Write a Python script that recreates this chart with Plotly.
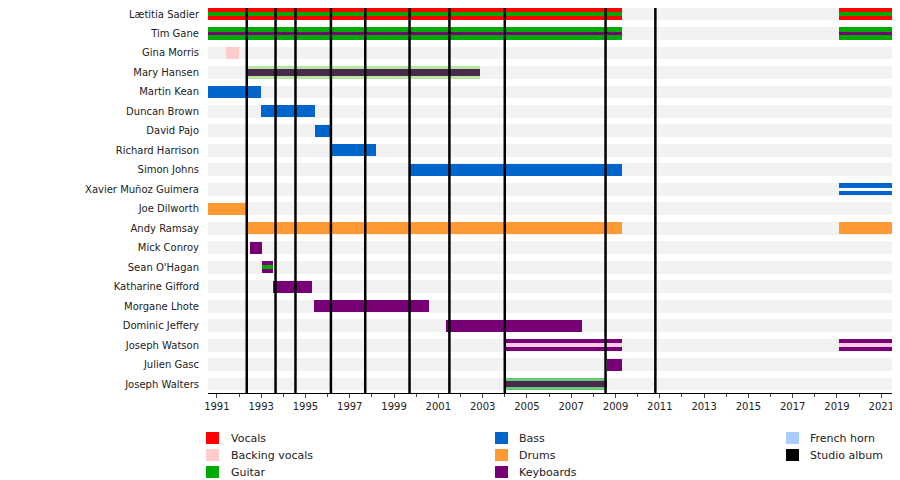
import plotly.graph_objects as go

members = ["Lætitia Sadier", "Tim Gane", "Gina Morris", "Mary Hansen", "Martin Kean",
           "Duncan Brown", "David Pajo", "Richard Harrison", "Simon Johns",
           "Xavier Muñoz Guimera", "Joe Dilworth", "Andy Ramsay", "Mick Conroy",
           "Sean O'Hagan", "Katharine Gifford", "Morgane Lhote", "Dominic Jeffery",
           "Joseph Watson", "Julien Gasc", "Joseph Walters"]

# (member, start, end, outer colour, inner colour or None)
spells = [
    ("Lætitia Sadier", 1990.6, 2009.3, "red", "green"),
    ("Lætitia Sadier", 2019.1, 2021.8, "red", "green"),
    ("Tim Gane", 1990.6, 2009.3, "green", "keys"),
    ("Tim Gane", 2019.1, 2021.8, "green", "keys"),
    ("Gina Morris", 1991.4, 1992.0, "backing", None),
    ("Mary Hansen", 1992.4, 2002.9, "lightgreen", "dark"),
    ("Martin Kean", 1990.6, 1993.0, "bass", None),
    ("Duncan Brown", 1993.0, 1995.45, "bass", None),
    ("David Pajo", 1995.45, 1996.1, "bass", None),
    ("Richard Harrison", 1996.1, 1998.2, "bass", None),
    ("Simon Johns", 1999.7, 2009.3, "bass", None),
    ("Xavier Muñoz Guimera", 2019.1, 2021.8, "bass", "white"),
    ("Joe Dilworth", 1990.6, 1992.35, "drums", None),
    ("Andy Ramsay", 1992.35, 2009.3, "drums", None),
    ("Andy Ramsay", 2019.1, 2021.8, "drums", None),
    ("Mick Conroy", 1992.5, 1993.05, "keys", None),
    ("Sean O'Hagan", 1993.05, 1993.55, "keys", "green"),
    ("Katharine Gifford", 1993.55, 1995.3, "keys", None),
    ("Morgane Lhote", 1995.4, 2000.6, "keys", None),
    ("Dominic Jeffery", 2001.35, 2007.5, "keys", None),
    ("Joseph Watson", 2004.0, 2009.3, "keys", "pink"),
    ("Joseph Watson", 2019.1, 2021.8, "keys", "pink"),
    ("Julien Gasc", 2008.6, 2009.3, "keys", None),
    ("Joseph Walters", 2004.0, 2008.6, "midgreen", "dark"),
]

albums = [1992.35, 1993.65, 1994.55, 1996.15, 1997.7, 1999.7, 2001.5, 2004.0, 2008.55, 2010.8]

colours = {"red": "#ff0000", "backing": "#ffcccc", "green": "#00aa00", "bass": "#0066cc",
           "drums": "#ff9933", "keys": "#770077", "horn": "#aaccff", "black": "#000000",
           "lightgreen": "#b8e6a0", "midgreen": "#66cc77", "dark": "#4a2a4a",
           "white": "#ffffff", "pink": "#ffc8e6"}

legend_items = [("Vocals", "red"), ("Backing vocals", "backing"), ("Guitar", "green"),
                ("Bass", "bass"), ("Drums", "drums"), ("Keyboards", "keys"),
                ("French horn", "horn"), ("Studio album", "black")]

x0, x1 = 1990.6, 2021.8
fig = go.Figure()

# grey row bands
fig.add_trace(go.Bar(y=members, x=[x1 - x0] * len(members), base=[x0] * len(members),
                     orientation="h", width=0.66, marker_color="#f2f2f2",
                     marker_line_width=0, hoverinfo="skip"))

for name, s, e, outer, inner in spells:
    fig.add_trace(go.Bar(y=[name], x=[e - s], base=[s], orientation="h", width=0.62,
                         marker_color=colours[outer], marker_line_width=0))
    if inner:
        w = 0.18 if inner != "dark" else 0.34
        fig.add_trace(go.Bar(y=[name], x=[e - s], base=[s], orientation="h", width=w,
                             marker_color=colours[inner], marker_line_width=0))

for a in albums:
    fig.add_shape(type="line", x0=a, x1=a, y0=0, y1=1, yref="paper",
                  line=dict(color="black", width=2.5))

cols = [(198, 221), (487, 509), (778, 800)]
for i, (label, c) in enumerate(legend_items):
    col, row = divmod(i, 3)
    sx, tx = cols[col]
    py = 430 + row * 17
    fig.add_shape(type="rect", xref="paper", yref="paper",
                  x0=(sx - 200) / 691, x1=(sx + 13 - 200) / 691,
                  y0=(385 - py - 6) / 385, y1=(385 - py + 6) / 385,
                  fillcolor=colours[c], line_width=0)
    fig.add_annotation(x=(tx - 200) / 691, y=(385 - py) / 385, xref="paper", yref="paper",
                       text=label, showarrow=False, xanchor="left", yanchor="middle",
                       font=dict(size=11, color="#222"))

fig.update_layout(
    width=900, height=480, barmode="overlay", showlegend=False,
    margin=dict(l=200, r=9, t=0, b=95, autoexpand=False),
    plot_bgcolor="white", paper_bgcolor="white",
    font=dict(family="DejaVu Sans, Arial", size=10, color="#222"),
    bargap=0,
)
fig.update_xaxes(range=[x0, x1], tickvals=list(range(1991, 2022, 2)),
                 ticks="outside", ticklen=4, showgrid=False, zeroline=False, automargin=False,
                 minor=dict(dtick=1, ticks="outside", ticklen=3), tickfont=dict(size=10),
                 showline=True, linecolor="black", linewidth=1)
fig.update_yaxes(categoryorder="array", categoryarray=members, range=[19.46, -0.31],
                 automargin=False, showgrid=False, ticks="", ticklabelstandoff=8,
                 tickfont=dict(size=10))

fig.write_html("out.html")
